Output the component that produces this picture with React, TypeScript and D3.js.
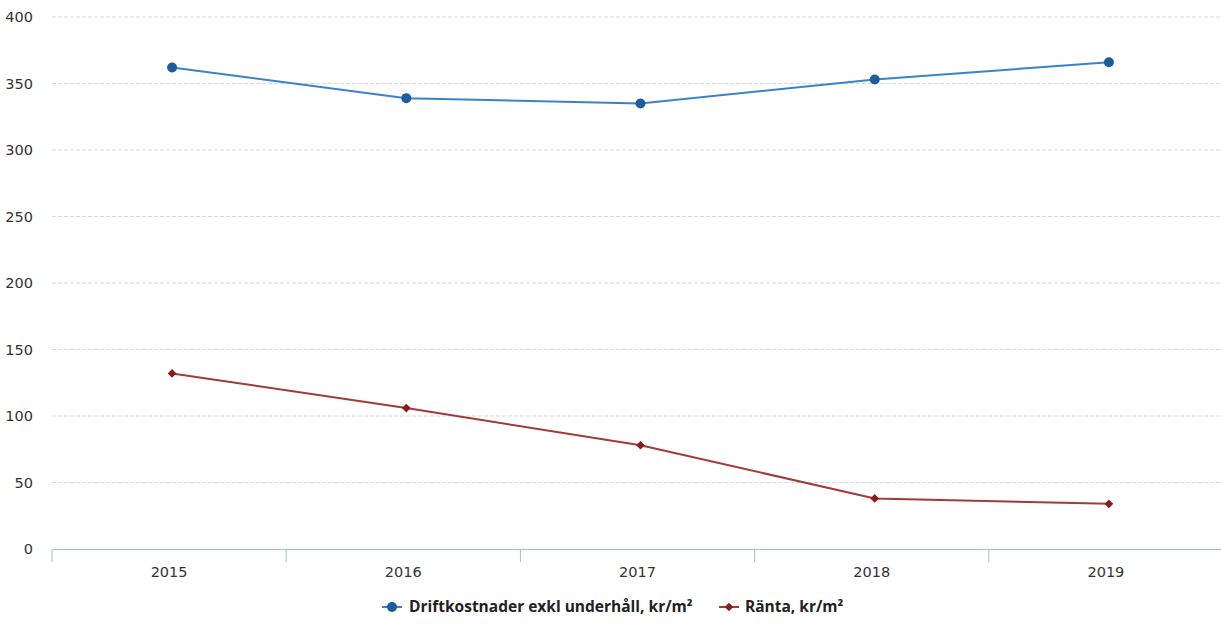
import React, { useEffect, useRef } from "react";
import * as d3 from "d3";

const years = ["2015", "2016", "2017", "2018", "2019"];
const driftValues = [362, 339, 335, 353, 366];
const rantaValues = [132, 106, 78, 38, 34];
const yTicks = [0, 50, 100, 150, 200, 250, 300, 350, 400];

const seriesNames = ["Driftkostnader exkl underhåll, kr/m²", "Ränta, kr/m²"];

const W = 1221;
const H = 624;

const App: React.FC = () => {
  const ref = useRef<SVGSVGElement>(null);

  useEffect(() => {
    const svg = d3.select(ref.current);
    svg.selectAll("*").remove();

    const margin = { top: 17, right: -2, bottom: 75, left: 52 };
    const width = W - margin.left - margin.right;
    const height = H - margin.top - margin.bottom;

    const x = d3.scaleBand().domain(years).range([0, width]);
    const y = d3.scaleLinear().domain([0, 400]).range([height, 0]);

    const g = svg
      .append("g")
      .attr("transform", `translate(${margin.left},${margin.top})`);

    // gridlines
    g.append("g")
      .selectAll("line")
      .data(yTicks.filter((t) => t > 0))
      .enter()
      .append("line")
      .attr("x1", 0)
      .attr("x2", width)
      .attr("y1", (d) => y(d))
      .attr("y2", (d) => y(d))
      .attr("stroke", "#d9d9d9")
      .attr("stroke-width", 1)
      .attr("stroke-dasharray", "4,2");

    // y labels
    g.append("g")
      .selectAll("text")
      .data(yTicks)
      .enter()
      .append("text")
      .attr("x", -19)
      .attr("y", (d) => y(d))
      .attr("dy", "0.35em")
      .attr("text-anchor", "end")
      .attr("font-family", "DejaVu Sans, sans-serif")
      .attr("font-size", 14.5)
      .attr("fill", "#333")
      .text((d) => d);

    // x axis
    const xAxis = g
      .append("g")
      .attr("transform", `translate(0,${height})`)
      .call(d3.axisBottom(x).tickSize(0).tickPadding(18));
    xAxis.select(".domain").attr("stroke", "#8ec8e6").attr("stroke-width", 1);
    xAxis
      .selectAll("text")
      .attr("font-family", "DejaVu Sans, sans-serif")
      .attr("font-size", 14.5)
      .attr("fill", "#333");

    // tick marks at band boundaries
    g.append("g")
      .selectAll("line")
      .data(years.map((yr) => x(yr) || 0))
      .enter()
      .append("line")
      .attr("x1", (d) => d)
      .attr("x2", (d) => d)
      .attr("y1", height)
      .attr("y2", height + 13)
      .attr("stroke", "#8ec8e6")
      .attr("stroke-width", 1);

    const cx = (i: number) => (x(years[i]) || 0) + x.bandwidth() / 2 + 3;

    const line = d3
      .line<number>()
      .x((_, i) => cx(i))
      .y((d) => y(d));

    // drift series
    g.append("path")
      .datum(driftValues)
      .attr("fill", "none")
      .attr("stroke", "#3a83c9")
      .attr("stroke-width", 2)
      .attr("d", line);
    g.append("g")
      .selectAll("circle")
      .data(driftValues)
      .enter()
      .append("circle")
      .attr("cx", (_, i) => cx(i))
      .attr("cy", (d) => y(d))
      .attr("r", 5)
      .attr("fill", "#1d5d9e");

    // ränta series
    g.append("path")
      .datum(rantaValues)
      .attr("fill", "none")
      .attr("stroke", "#a33a3a")
      .attr("stroke-width", 2)
      .attr("d", line);
    const diamond = d3.symbol().type(d3.symbolSquare).size(38);
    g.append("g")
      .selectAll("path")
      .data(rantaValues)
      .enter()
      .append("path")
      .attr("transform", (d, i) => `translate(${cx(i)},${y(d)}) rotate(45)`)
      .attr("d", diamond)
      .attr("fill", "#8a1c1c");

    // legend
    const legend = svg.append("g").attr("transform", "translate(0,607)");
    legend
      .append("line")
      .attr("x1", 382)
      .attr("x2", 402)
      .attr("stroke", "#3a83c9")
      .attr("stroke-width", 2);
    legend.append("circle").attr("cx", 392).attr("r", 5).attr("fill", "#1d5d9e");
    legend
      .append("text")
      .attr("x", 409)
      .attr("dy", "0.35em")
      .attr("font-family", "Open Sans, sans-serif")
      .attr("font-weight", "bold")
      .attr("font-size", 15.5)
      .attr("fill", "#222")
      .text(seriesNames[0]);

    legend
      .append("line")
      .attr("x1", 719)
      .attr("x2", 739)
      .attr("stroke", "#a33a3a")
      .attr("stroke-width", 2);
    legend
      .append("path")
      .attr("transform", "translate(729,0) rotate(45)")
      .attr("d", diamond)
      .attr("fill", "#8a1c1c");
    legend
      .append("text")
      .attr("x", 745)
      .attr("dy", "0.35em")
      .attr("font-family", "Open Sans, sans-serif")
      .attr("font-weight", "bold")
      .attr("font-size", 15.5)
      .attr("fill", "#222")
      .text(seriesNames[1]);
  }, []);

  return (
    <svg
      ref={ref}
      width={W}
      height={H}
      style={{ position: "fixed", left: 0, top: 0, background: "#fff" }}
    ></svg>
  );
};

export default App;
